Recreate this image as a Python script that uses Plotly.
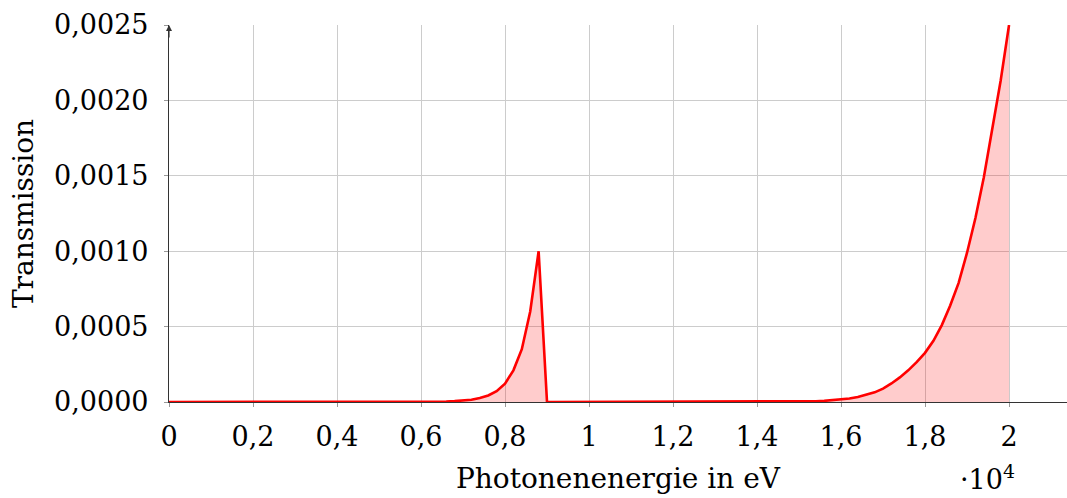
import plotly.graph_objects as go

# Photon energy in eV (sampled every 200 eV)
energy_ev = list(range(0, 20001, 200))

# Transmission (one value per energy sample)
transmission = [
    0, 0, 0, 0, 0, 0, 0, 0, 0, 0,
    0, 0, 0, 0, 0, 0, 0, 0, 0, 0,
    0, 0, 0, 0, 0, 0, 0, 0, 0, 3e-7,
    6e-7, 1e-6, 1.8e-6, 3.2e-6, 5.5e-6, 9.2e-6, 1.5e-5, 2.6e-5, 4.3e-5, 7.2e-5,
    1.22e-4, 2.1e-4, 3.5e-4, 6.0e-4, 1.0e-3, 0, 0, 0, 0, 0,
    0, 0, 0, 0, 0, 0, 0, 0, 0, 0,
    0, 0, 0, 0, 0, 0, 0, 0, 0, 0,
    0, 0, 5e-7, 8e-7, 1.3e-6, 2.1e-6, 3.3e-6, 5e-6, 7.5e-6, 1.1e-5,
    1.61e-5, 2.3e-5, 3.3e-5, 4.6e-5, 6.4e-5, 8.9e-5, 1.23e-4, 1.63e-4, 2.1e-4, 2.64e-4,
    3.26e-4, 4.06e-4, 5.1e-4, 6.4e-4, 7.9e-4, 9.9e-4, 1.22e-3, 1.49e-3, 1.8e-3, 2.13e-3,
    2.5e-3,
]

x_tickvals = [0, 2000, 4000, 6000, 8000, 10000, 12000, 14000, 16000, 18000, 20000]
x_ticktext = ["0", "0,2", "0,4", "0,6", "0,8", "1", "1,2", "1,4", "1,6", "1,8", "2"]
y_tickvals = [0, 0.0005, 0.0010, 0.0015, 0.0020, 0.0025]
y_ticktext = ["0,0000", "0,0005", "0,0010", "0,0015", "0,0020", "0,0025"]

FONT = "DejaVu Serif"
FS = 27

fig = go.Figure()
fig.add_trace(go.Scatter(
    x=energy_ev, y=transmission, mode="lines",
    line=dict(color="#ff0000", width=2.6),
    fill="tozeroy", fillcolor="rgba(255,0,0,0.2)",
    showlegend=False, hoverinfo="skip",
))

fig.update_layout(
    width=1067, height=498,
    margin=dict(l=169, r=0, t=25, b=96, autoexpand=False),
    paper_bgcolor="white", plot_bgcolor="white",
    font=dict(family=FONT, size=FS, color="black"),
    xaxis=dict(
        range=[0, 21380], tickvals=x_tickvals, ticktext=x_ticktext,
        showgrid=True, gridcolor="#cccccc", gridwidth=1,
        zeroline=False, showline=True, linecolor="#333333", linewidth=1.2,
        ticks="outside", ticklen=4, tickcolor="#999999",
        ticklabelstandoff=6, automargin=False,
        title=dict(text="Photonenenergie in eV", standoff=17,
                   font=dict(family=FONT, size=28)),
    ),
    yaxis=dict(
        range=[0, 0.0025], tickvals=y_tickvals, ticktext=y_ticktext,
        showgrid=True, gridcolor="#cccccc", gridwidth=1,
        zeroline=False, showline=True, linecolor="#333333", linewidth=1.2,
        ticks="outside", ticklen=4, tickcolor="#999999",
        ticklabelstandoff=10, automargin=False,
        title=dict(text="Transmission", standoff=12,
                   font=dict(family=FONT, size=28)),
    ),
    annotations=[
        dict(xref="x", yref="y", x=0, y=0.0025, ax=0, ay=14,
             showarrow=True, arrowhead=2, arrowsize=1, arrowwidth=1.2,
             arrowcolor="#333333", text=""),
        dict(xref="paper", yref="paper", x=0.911, y=-0.2,
             xanchor="center", yanchor="middle", showarrow=False,
             text="·10<sup>4</sup>", font=dict(family=FONT, size=FS)),
    ],
)

fig.write_html(
    "out.html",
    config={"displayModeBar": False},
    post_script="document.body.style.margin='0';document.body.style.padding='0';",
)
